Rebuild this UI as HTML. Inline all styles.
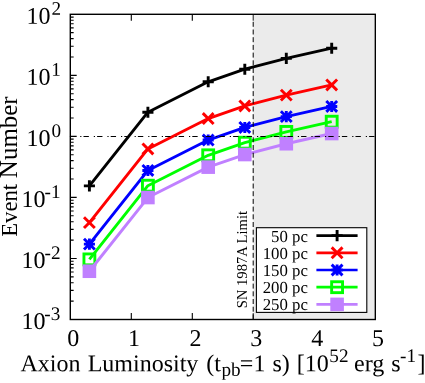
<!DOCTYPE html><html><head><meta charset="utf-8"><title>Event Number vs Axion Luminosity</title><style>html,body{margin:0;padding:0;background:#fff}body{width:425px;height:383px;overflow:hidden}svg{display:block;will-change:transform}text{font-family:"Liberation Serif",serif;fill:#000}</style></head><body>
<svg width="425" height="383" viewBox="0 0 425 383">
<rect width="425" height="383" fill="#fff"/>
<rect x="253.3" y="15.25" width="121.05" height="303.30" fill="#ebebeb"/>
<path d="M70.3 56.97h3.35M70.3 46.22h3.35M70.3 38.59h3.35M70.3 32.67h3.35M70.3 27.84h3.35M70.3 23.76h3.35M70.3 20.22h3.35M70.3 17.09h3.35M70.3 75.34h6.4M70.3 118.01h3.35M70.3 107.26h3.35M70.3 99.63h3.35M70.3 93.71h3.35M70.3 88.88h3.35M70.3 84.80h3.35M70.3 81.26h3.35M70.3 78.13h3.35M70.3 136.38h6.4M70.3 179.05h3.35M70.3 168.30h3.35M70.3 160.67h3.35M70.3 154.75h3.35M70.3 149.92h3.35M70.3 145.84h3.35M70.3 142.30h3.35M70.3 139.17h3.35M70.3 197.42h6.4M70.3 240.09h3.35M70.3 229.34h3.35M70.3 221.71h3.35M70.3 215.79h3.35M70.3 210.96h3.35M70.3 206.88h3.35M70.3 203.34h3.35M70.3 200.21h3.35M70.3 258.46h6.4M70.3 301.13h3.35M70.3 290.38h3.35M70.3 282.75h3.35M70.3 276.83h3.35M70.3 272.00h3.35M70.3 267.92h3.35M70.3 264.38h3.35M70.3 261.25h3.35M131.30 319.5v-6.4M131.30 14.3v6.4M192.30 319.5v-6.4M192.30 14.3v6.4" stroke="#000" stroke-width="1.1" fill="none"/>
<path d="M253.20000000000002 319.5v-6.4M253.20000000000002 14.3v6.4" stroke="#000" stroke-width="0.9" fill="none"/>
<rect x="70.3" y="14.3" width="305.00" height="305.20" fill="none" stroke="#000" stroke-width="1.4"/>
<path d="M89.40 185.90L147.90 112.20L208.20 81.80L244.80 69.20L286.30 58.40L331.70 48.20" stroke="#000000" stroke-width="2.9" fill="none" stroke-linejoin="round"/>
<path d="M83.85 185.90H94.95M89.40 180.35V191.45" stroke="#000000" stroke-width="2.9" fill="none"/>
<path d="M142.35 112.20H153.45M147.90 106.65V117.75" stroke="#000000" stroke-width="2.9" fill="none"/>
<path d="M202.65 81.80H213.75M208.20 76.25V87.35" stroke="#000000" stroke-width="2.9" fill="none"/>
<path d="M239.25 69.20H250.35M244.80 63.65V74.75" stroke="#000000" stroke-width="2.9" fill="none"/>
<path d="M280.75 58.40H291.85M286.30 52.85V63.95" stroke="#000000" stroke-width="2.9" fill="none"/>
<path d="M326.15 48.20H337.25M331.70 42.65V53.75" stroke="#000000" stroke-width="2.9" fill="none"/>
<path d="M89.40 222.65L147.90 148.95L208.20 118.55L244.80 105.95L286.30 95.15L331.70 84.95" stroke="#ff0000" stroke-width="2.9" fill="none" stroke-linejoin="round"/>
<path d="M84.00 217.25L94.80 228.05M84.00 228.05L94.80 217.25" stroke="#ff0000" stroke-width="2.9" fill="none"/>
<path d="M142.50 143.55L153.30 154.35M142.50 154.35L153.30 143.55" stroke="#ff0000" stroke-width="2.9" fill="none"/>
<path d="M202.80 113.15L213.60 123.95M202.80 123.95L213.60 113.15" stroke="#ff0000" stroke-width="2.9" fill="none"/>
<path d="M239.40 100.55L250.20 111.35M239.40 111.35L250.20 100.55" stroke="#ff0000" stroke-width="2.9" fill="none"/>
<path d="M280.90 89.75L291.70 100.55M280.90 100.55L291.70 89.75" stroke="#ff0000" stroke-width="2.9" fill="none"/>
<path d="M326.30 79.55L337.10 90.35M326.30 90.35L337.10 79.55" stroke="#ff0000" stroke-width="2.9" fill="none"/>
<path d="M89.40 244.15L147.90 170.45L208.20 140.05L244.80 127.45L286.30 116.65L331.70 106.45" stroke="#0000ff" stroke-width="2.9" fill="none" stroke-linejoin="round"/>
<path d="M83.85 244.15H94.95M89.40 238.60V249.70M84.00 238.75L94.80 249.55M84.00 249.55L94.80 238.75" stroke="#0000ff" stroke-width="2.9" fill="none"/>
<path d="M142.35 170.45H153.45M147.90 164.90V176.00M142.50 165.05L153.30 175.85M142.50 175.85L153.30 165.05" stroke="#0000ff" stroke-width="2.9" fill="none"/>
<path d="M202.65 140.05H213.75M208.20 134.50V145.60M202.80 134.65L213.60 145.45M202.80 145.45L213.60 134.65" stroke="#0000ff" stroke-width="2.9" fill="none"/>
<path d="M239.25 127.45H250.35M244.80 121.90V133.00M239.40 122.05L250.20 132.85M239.40 132.85L250.20 122.05" stroke="#0000ff" stroke-width="2.9" fill="none"/>
<path d="M280.75 116.65H291.85M286.30 111.10V122.20M280.90 111.25L291.70 122.05M280.90 122.05L291.70 111.25" stroke="#0000ff" stroke-width="2.9" fill="none"/>
<path d="M326.15 106.45H337.25M331.70 100.90V112.00M326.30 101.05L337.10 111.85M326.30 111.85L337.10 101.05" stroke="#0000ff" stroke-width="2.9" fill="none"/>
<path d="M89.40 259.40L147.90 185.70L208.20 155.30L244.80 142.70L286.30 131.90L331.70 121.70" stroke="#00ff00" stroke-width="2.9" fill="none" stroke-linejoin="round"/>
<rect x="83.95" y="253.95" width="10.90" height="10.90" stroke="#00ff00" stroke-width="2.9" fill="none"/>
<rect x="142.45" y="180.25" width="10.90" height="10.90" stroke="#00ff00" stroke-width="2.9" fill="none"/>
<rect x="202.75" y="149.85" width="10.90" height="10.90" stroke="#00ff00" stroke-width="2.9" fill="none"/>
<rect x="239.35" y="137.25" width="10.90" height="10.90" stroke="#00ff00" stroke-width="2.9" fill="none"/>
<rect x="280.85" y="126.45" width="10.90" height="10.90" stroke="#00ff00" stroke-width="2.9" fill="none"/>
<rect x="326.25" y="116.25" width="10.90" height="10.90" stroke="#00ff00" stroke-width="2.9" fill="none"/>
<path d="M89.40 271.23L147.90 197.53L208.20 167.13L244.80 154.53L286.30 143.73L331.70 133.53" stroke="#c080ff" stroke-width="2.9" fill="none" stroke-linejoin="round"/>
<rect x="82.60" y="264.43" width="13.60" height="13.60" fill="#c080ff"/>
<rect x="141.10" y="190.73" width="13.60" height="13.60" fill="#c080ff"/>
<rect x="201.40" y="160.33" width="13.60" height="13.60" fill="#c080ff"/>
<rect x="238.00" y="147.73" width="13.60" height="13.60" fill="#c080ff"/>
<rect x="279.50" y="136.93" width="13.60" height="13.60" fill="#c080ff"/>
<rect x="324.90" y="126.73" width="13.60" height="13.60" fill="#c080ff"/>
<rect x="256.4" y="227.7" width="110.40" height="84.70" fill="#fff" stroke="#000" stroke-width="1.1"/>
<path d="M316.4 235.60H357.6" stroke="#000000" stroke-width="2.7" fill="none"/>
<path d="M331.55 235.60H342.65M337.10 230.05V241.15" stroke="#000000" stroke-width="2.9" fill="none"/>
<path d="M316.4 252.80H357.6" stroke="#ff0000" stroke-width="2.7" fill="none"/>
<path d="M331.70 247.40L342.50 258.20M331.70 258.20L342.50 247.40" stroke="#ff0000" stroke-width="2.9" fill="none"/>
<path d="M316.4 270.00H357.6" stroke="#0000ff" stroke-width="2.7" fill="none"/>
<path d="M331.55 270.00H342.65M337.10 264.45V275.55M331.70 264.60L342.50 275.40M331.70 275.40L342.50 264.60" stroke="#0000ff" stroke-width="2.9" fill="none"/>
<path d="M316.4 287.20H357.6" stroke="#00ff00" stroke-width="2.7" fill="none"/>
<rect x="331.65" y="281.75" width="10.90" height="10.90" stroke="#00ff00" stroke-width="2.9" fill="none"/>
<path d="M316.4 304.40H357.6" stroke="#c080ff" stroke-width="2.7" fill="none"/>
<rect x="330.30" y="297.60" width="13.60" height="13.60" fill="#c080ff"/>
<path d="M69.9 136.48H375.3" stroke="#000" stroke-width="1.2" fill="none" stroke-dasharray="5.35 4.95 1.2 2.1"/>
<path d="M253.20000000000002 21.8V319.5" stroke="#000" stroke-width="1" fill="none" stroke-dasharray="5.0 2.7"/>
<text transform="translate(20.49 371.30) rotate(0.03)" font-size="24.0">Axion</text>
<text transform="translate(87.69 371.30) rotate(0.03)" font-size="24.0">Luminosity</text>
<text transform="translate(206.25 371.30) rotate(0.03)" font-size="24.0">(t</text>
<text transform="translate(221.38 375.80) rotate(0.03)" font-size="19.2">pb</text>
<text transform="translate(239.86 371.30) rotate(0.03)" font-size="24.0">=1</text>
<text transform="translate(272.48 371.30) rotate(0.03)" font-size="24.0">s)</text>
<text transform="translate(296.86 371.30) rotate(0.03)" font-size="24.0">[10</text>
<text transform="translate(329.33 362.10) rotate(0.03)" font-size="19.2">52</text>
<text transform="translate(354.07 371.30) rotate(0.03)" font-size="24.0">erg</text>
<text transform="translate(391.30 371.30) rotate(0.03)" font-size="24.0">s</text>
<text transform="translate(400.04 362.10) rotate(0.03)" font-size="19.2">-1</text>
<text transform="translate(417.39 371.30) rotate(0.03)" font-size="24.0">]</text>
<text transform="translate(26.42 23.80) rotate(0.03)" font-size="24.0">10</text>
<text transform="translate(51.51 14.80) rotate(0.03)" font-size="19.2">2</text>
<text transform="translate(26.42 84.84) rotate(0.03)" font-size="24.0">10</text>
<text transform="translate(51.14 75.84) rotate(0.03)" font-size="19.2">1</text>
<text transform="translate(26.42 145.88) rotate(0.03)" font-size="24.0">10</text>
<text transform="translate(51.39 136.88) rotate(0.03)" font-size="19.2">0</text>
<text transform="translate(21.38 206.92) rotate(0.03)" font-size="24.0">10</text>
<text transform="translate(44.54 197.92) rotate(0.03)" font-size="19.2">-1</text>
<text transform="translate(21.38 267.96) rotate(0.03)" font-size="24.0">10</text>
<text transform="translate(44.54 258.96) rotate(0.03)" font-size="19.2">-2</text>
<text transform="translate(21.38 329.00) rotate(0.03)" font-size="24.0">10</text>
<text transform="translate(44.35 320.00) rotate(0.03)" font-size="19.2">-3</text>
<text transform="translate(67.20 346.00) rotate(0.03)" font-size="24.0">0</text>
<text transform="translate(127.89 346.00) rotate(0.03)" font-size="24.0">1</text>
<text transform="translate(189.39 346.00) rotate(0.03)" font-size="24.0">2</text>
<text transform="translate(250.14 346.00) rotate(0.03)" font-size="24.0">3</text>
<text transform="translate(311.14 346.00) rotate(0.03)" font-size="24.0">4</text>
<text transform="translate(372.01 346.00) rotate(0.03)" font-size="24.0">5</text>
<text transform="translate(271.05 242.10) rotate(0.03)" font-size="16.8">50 pc</text>
<text transform="translate(262.68 259.05) rotate(0.03)" font-size="16.8">100 pc</text>
<text transform="translate(262.68 276.00) rotate(0.03)" font-size="16.8">150 pc</text>
<text transform="translate(262.68 292.95) rotate(0.03)" font-size="16.8">200 pc</text>
<text transform="translate(262.68 309.90) rotate(0.03)" font-size="16.8">250 pc</text>
<text transform="translate(16.70 236.85) rotate(-90)" font-size="22.73">Event</text>
<text transform="translate(16.70 178.14) rotate(-90)" font-size="24.97">Number</text>
<text transform="translate(246.60 308.25) rotate(-90)" font-size="14.6">SN 1987A Limit</text>
</svg></body></html>
